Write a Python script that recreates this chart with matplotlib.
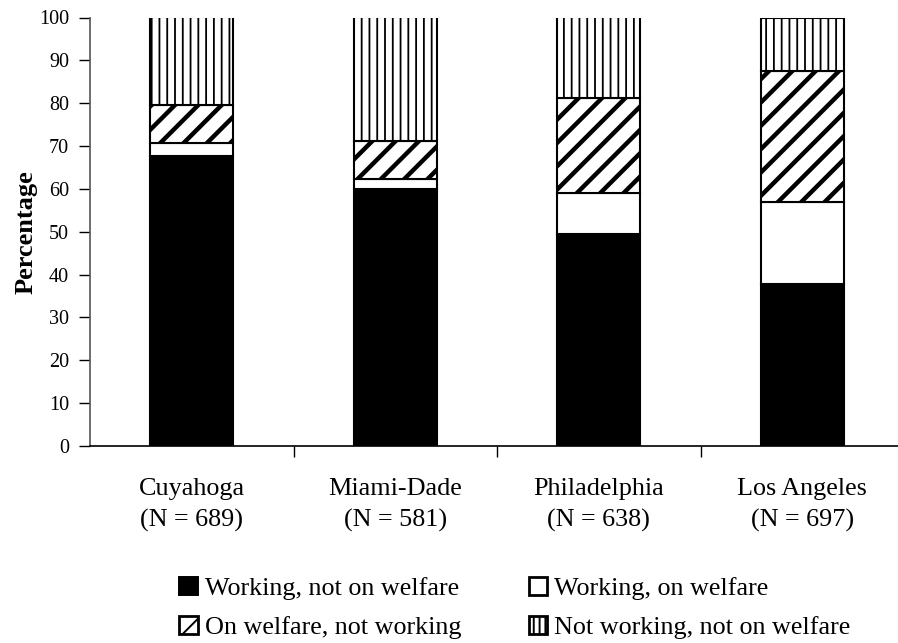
import matplotlib
matplotlib.use("Agg")
import matplotlib.pyplot as plt
import numpy as np
from matplotlib.patches import Patch

plt.rcParams['font.family'] = ['Liberation Serif', 'DejaVu Serif']

# data (percent)
sites = ["Cuyahoga\n(N = 689)", "Miami-Dade\n(N = 581)", "Philadelphia\n(N = 638)", "Los Angeles\n(N = 697)"]
work_no_welfare = [67.7, 60.0, 49.5, 37.7]
work_welfare = [3.0, 2.3, 9.5, 19.3]
welfare_no_work = [8.8, 8.9, 22.3, 30.4]
neither = [20.5, 28.8, 18.7, 12.6]
labels = ["Working, not on welfare", "Working, on welfare",
          "On welfare, not working", "Not working, not on welfare"]

# higher dpi so hatch spacing comes out close to the original
DPI = 140
k = 100 / DPI  # sizes below are written as if dpi were 100

fig = plt.figure(figsize=(898 / DPI, 643 / DPI), dpi=DPI)
ax = fig.add_axes([90/898, 1-446/643, (904-90)/898, (446-17.5)/643])

x = np.arange(len(sites))
w = 0.41
bottom = np.zeros(len(sites))
series = [work_no_welfare, work_welfare, welfare_no_work, neither]
styles = [dict(color="black"),
          dict(color="white"),
          dict(color="white", hatch="//", hatch_linewidth=3.2*k),
          dict(color="white", hatch="|||", hatch_linewidth=1.3*k)]
for vals, st in zip(series, styles):
    ax.bar(x, vals, w, bottom=bottom, edgecolor="black", linewidth=1.5*k, **st)
    bottom += np.array(vals)

ax.set_xlim(-0.5, 3.5)
ax.set_ylim(0, 100)
ax.set_yticks(range(0, 101, 10))
ax.tick_params(axis="y", labelsize=14.5*k, length=8*k, width=1*k, pad=7*k)
ax.set_xticks(x)
ax.set_xticklabels(sites, fontsize=18.8*k, linespacing=1.5)
ax.tick_params(axis="x", which="major", length=0, pad=23*k)
ax.set_xticks(np.arange(0.5, 3.5, 1), minor=True)
ax.tick_params(axis="x", which="minor", length=8*k, width=1*k)
ax.spines["top"].set_visible(False)
ax.spines["right"].set_visible(False)
ax.spines["left"].set_linewidth(1.2*k)
ax.spines["left"].set_color("#555555")
ax.spines["bottom"].set_linewidth(1.2*k)
ax.set_ylabel("Percentage", fontsize=19*k, fontweight="bold", labelpad=1*k)

handles = [Patch(facecolor="black", edgecolor="black"),
           Patch(facecolor="white", edgecolor="black", linewidth=2*k),
           Patch(facecolor="white", edgecolor="black", hatch="//", linewidth=2*k, hatch_linewidth=3*k),
           Patch(facecolor="white", edgecolor="black", hatch="||||", linewidth=2*k, hatch_linewidth=1.5*k)]
order = [0, 2, 1, 3]  # legend fills columns first
fig.legend([handles[i] for i in order], [labels[i] for i in order], ncol=2,
           loc="center", bbox_to_anchor=(515/898, 1-608/643),
           frameon=False, fontsize=18.8*k, handlelength=0.7, handleheight=0.7,
           handletextpad=0.27, columnspacing=2.6, labelspacing=0.6,
           borderpad=0)

fig.savefig("out.png", dpi=DPI)
